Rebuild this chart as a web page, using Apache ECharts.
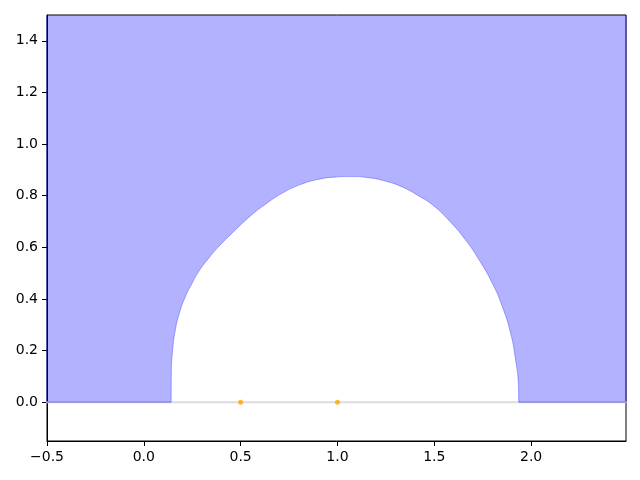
<!DOCTYPE html>
<html>
<head>
<meta charset="utf-8">
<script src="https://cdn.jsdelivr.net/npm/echarts@6/dist/echarts.min.js"></script>
<style>
  html, body { margin: 0; padding: 0; background: #fff; }
  #chart { width: 640px; height: 480px; }
</style>
</head>
<body>
<div id="chart"></div>
<script>
/* 数据 */
var xTicks = [-0.5, 0.0, 0.5, 1.0, 1.5, 2.0];
var yTicks = [0.0, 0.2, 0.4, 0.6, 0.8, 1.0, 1.2, 1.4];
// 边界曲线 (x, y)，区域在曲线上方
var boundaryX = [-1.0, 0.141, 0.142, 0.149, 0.163, 0.184, 0.215, 0.250, 0.284, 0.336, 0.388, 0.457, 0.548,
                 0.639, 0.725, 0.812, 0.899, 0.985, 1.072, 1.158, 1.245, 1.331, 1.418, 1.495, 1.580,
                 1.660, 1.730, 1.799, 1.851, 1.894, 1.920, 1.934, 1.937, 3.0];
var boundaryY = [0.0, 0.0, 0.113, 0.203, 0.281, 0.346, 0.410, 0.462, 0.507, 0.559, 0.604, 0.656, 0.720,
                 0.773, 0.814, 0.844, 0.863, 0.872, 0.874, 0.870, 0.857, 0.835, 0.800, 0.762, 0.701,
                 0.630, 0.553, 0.462, 0.371, 0.268, 0.164, 0.074, 0.0, 0.0];
var pointsX = [0.5, 1.0];
var pointsY = [0.0, 0.0];
var baseLine = [[-1.0, 0.0], [3.0, 0.0]];

(function () {
  var myEchart = echarts.init(document.getElementById('chart'), null, { renderer: 'canvas' });
  var fmt = function (v) {
    return v.toFixed(1).replace('-', '\u2212');
  };
  var boundary = boundaryX.map(function (x, i) { return [x, boundaryY[i]]; });
  var points = pointsX.map(function (x, i) { return [x, pointsY[i]]; });
  var axisCommon = {
    type: 'value',
    axisLine: { show: true, onZero: false, lineStyle: { color: '#000', width: 1 } },
    axisTick: { show: true, length: 5, lineStyle: { color: '#000', width: 1 } },
    axisLabel: {
      color: '#000',
      fontFamily: 'DejaVu Sans',
      fontSize: 14,
      margin: 9,
      formatter: fmt
    },
    splitLine: { show: false }
  };
  var option = {
    animation: false,
    backgroundColor: '#fff',
    grid: {
      left: 47,
      right: 14,
      top: 15,
      bottom: 39,
      show: true,
      borderColor: '#000',
      borderWidth: 1,
      backgroundColor: 'transparent'
    },
    xAxis: echarts.util.merge({
      min: -0.5,
      max: 2.49,
      axisTick: { customValues: xTicks },
      axisLabel: { customValues: xTicks }
    }, axisCommon),
    yAxis: echarts.util.merge({
      min: -0.15,
      max: 1.5,
      axisTick: { customValues: yTicks },
      axisLabel: { customValues: yTicks }
    }, axisCommon),
    series: [
      {
        // 零线
        type: 'line',
        data: baseLine,
        symbol: 'none',
        lineStyle: { color: '#dddddd', width: 2 },
        z: 1
      },
      {
        // 区域
        type: 'line',
        data: boundary,
        symbol: 'none',
        smooth: 0.5,
        lineStyle: { color: 'rgba(0,0,255,0.3)', width: 1 },
        areaStyle: { color: 'rgba(0,0,255,0.3)', origin: 'end', opacity: 1 },
        z: 2
      },
      {
        type: 'scatter',
        data: points,
        symbolSize: 5,
        itemStyle: { color: '#ffa500' },
        z: 3
      }
    ]
  };
  myEchart.setOption(option);
})();
</script>
</body>
</html>
